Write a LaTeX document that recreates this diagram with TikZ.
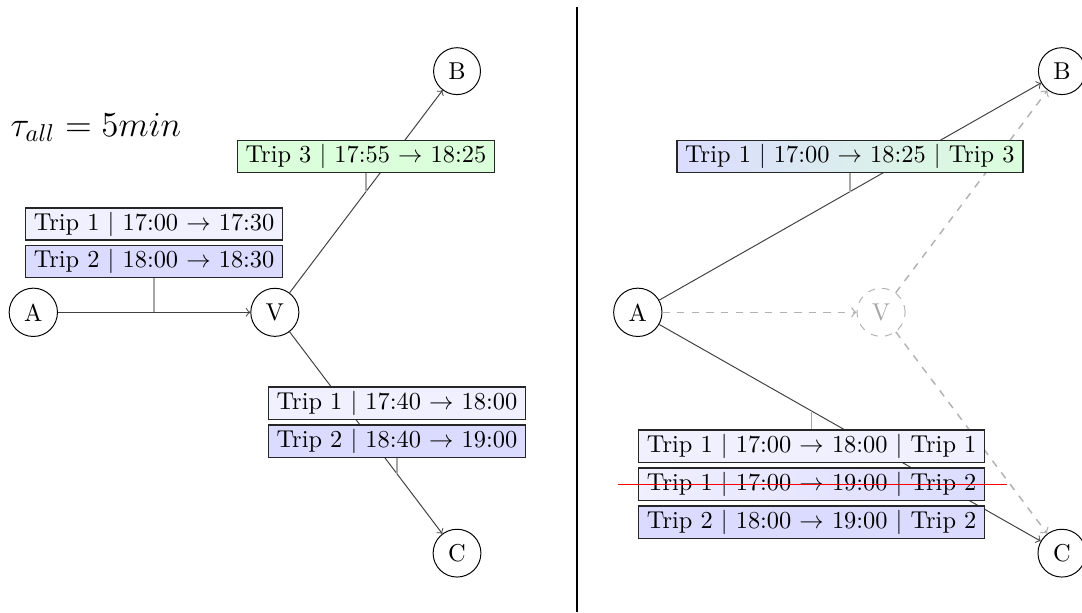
\documentclass[tikz,border=0pt]{standalone}
\usepackage{amsmath}
\usetikzlibrary{positioning, calc}

\begin{document}
\begin{tikzpicture}[
    station/.style={circle, draw},
    tripbox/.style={draw=black!85, semithick, inner xsep=3.4pt, inner ysep=1.6pt},
    tripone/.style={tripbox, fill=blue!6},
    triptwo/.style={tripbox, fill=blue!14},
    tripthree/.style={tripbox, fill=green!14},
    route/.style={->, black!75},
    ghost/.style={->, gray!60, dashed, semithick},
    pinline/.style={gray!70, semithick}
]
    \useasboundingbox (0,0) rectangle (15.59,8.82);

    % Parameter
    \node[anchor=base west] (tau) at (0.03, 6.86) {\Large $\tau_{all} = 5min$};

    % Left: network with transfer stop V
    \node[station] (A) at (0.48, 4.32) {A};
    \node[station] (V) at (3.96, 4.32) {V};
    \node[station] (B) at (6.585, 7.795) {B};
    \node[station] (C) at (6.585, 0.85) {C};

    \draw[route] (A) -- (V);
    \draw[route] (V) -- (B);
    \draw[route] (V) -- (C);

    \coordinate (eAV) at ($(A)!0.5!(V)$);
    \coordinate (eVB) at ($(V)!0.5!(B)$);
    \coordinate (eVC) at ($(V)!0.67!(C)$);

    % Trips on the edges
    \node[triptwo, above=14pt of eAV] (av2) {Trip 2 $|$ 18:00 $\rightarrow$ 18:30};
    \node[tripone, above=1.5pt of av2] (av1) {Trip 1 $|$ 17:00 $\rightarrow$ 17:30};
    \draw[pinline] (eAV) -- (av2.south);

    \node[tripthree, above=7.5pt of eVB] (vb3) {Trip 3 $|$ 17:55 $\rightarrow$ 18:25};
    \draw[pinline] (eVB) -- (vb3.south);

    \node[triptwo, above=6.4pt of eVC] (vc2) {Trip 2 $|$ 18:40 $\rightarrow$ 19:00};
    \node[tripone, above=1.8pt of vc2] (vc1) {Trip 1 $|$ 17:40 $\rightarrow$ 18:00};
    \draw[pinline] (eVC) -- (vc2.south);

    % Divider
    \coordinate (divtop) at (8.31, 8.72);
    \coordinate (divbot) at (8.31, 0);
    \draw[thick] (divtop) -- (divbot);

    % Right: network with V contracted
    \node[station] (A2) at (9.19, 4.32) {A};
    \node[station, draw=gray!60, dashed, text=gray!70] (V2) at (12.695, 4.32) {V};
    \node[station] (B2) at (15.30, 7.795) {B};
    \node[station] (C2) at (15.30, 0.85) {C};

    \draw[ghost] (A2) -- (V2);
    \draw[ghost] (V2) -- (B2);
    \draw[ghost] (V2) -- (C2);
    \draw[route] (A2) -- (B2);
    \draw[route] (A2) -- (C2);

    \coordinate (eAB) at ($(A2)!0.5!(B2)$);
    \coordinate (eAC) at ($(A2)!0.41!(C2)$);

    % Combined trips
    \node[tripbox, left color=blue!14, right color=green!14, above=7.5pt of eAB] (ab13)
        {Trip 1 $|$ 17:00 $\rightarrow$ 18:25 $|$ Trip 3};
    \draw[pinline] (eAB) -- (ab13.south);

    \node[tripone, below=7.5pt of eAC] (ac11) {Trip 1 $|$ 17:00 $\rightarrow$ 18:00 $|$ Trip 1};
    \node[tripbox, left color=blue!6, right color=blue!14, below=1.8pt of ac11] (ac12)
        {Trip 1 $|$ 17:00 $\rightarrow$ 19:00 $|$ Trip 2};
    \node[triptwo, below=1.8pt of ac12] (ac22) {Trip 2 $|$ 18:00 $\rightarrow$ 19:00 $|$ Trip 2};
    \draw[pinline] (eAC) -- (ac11.north);

    % Discarded trip
    \draw[red, semithick] ($(ac12.west)+(-8pt,0)$) -- ($(ac12.east)+(9pt,0)$);
\end{tikzpicture}
\end{document}
